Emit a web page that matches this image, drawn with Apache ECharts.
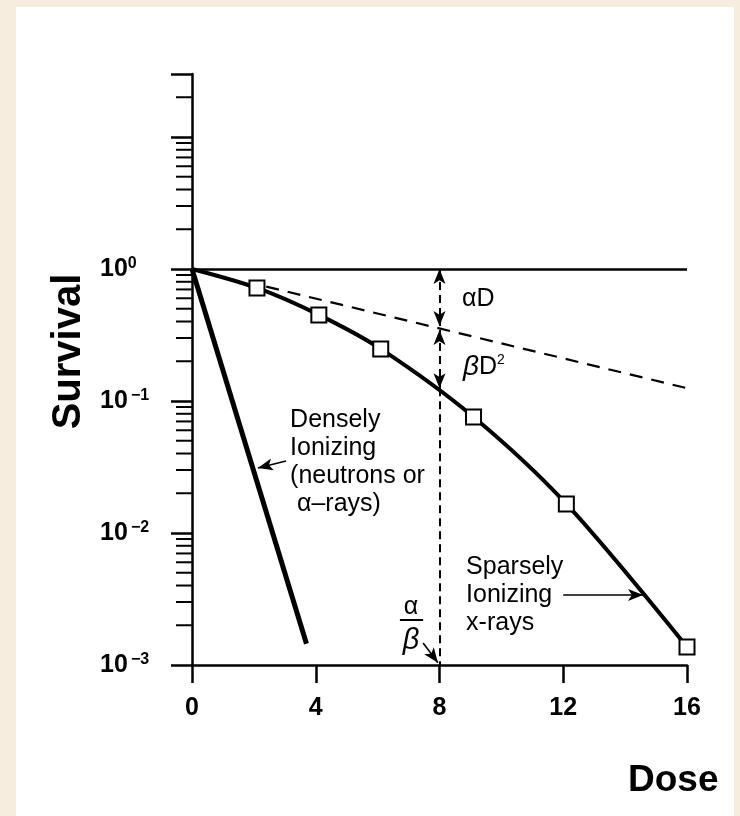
<!DOCTYPE html>
<html>
<head>
<meta charset="utf-8">
<script src="https://cdn.jsdelivr.net/npm/echarts@6/dist/echarts.min.js"></script>
<style>
html, body { margin: 0; padding: 0; background: #f6eddf; }
#main { position: absolute; left: 16px; top: 7px; width: 718px; height: 809px; background: #fff; }
</style>
</head>
<body>
<div id="main"></div>
<script>
var FONT = "'Liberation Sans', Arial, Helvetica, sans-serif";

// sparsely ionizing (x-rays)
var xrayDose = [0, 2.1, 4.1, 6.1, 9.1, 12.1, 16.0];
var xraySurvival = [1, 0.718, 0.449, 0.248, 0.0757, 0.0166, 0.00137];
// densely ionizing (neutrons / alpha)
var denseDose = [0, 3.7];
var denseSurvival = [1, 0.00145];
// alpha D component (dashed)
var alphaDose = [2.4, 16];
var alphaSurvival = [0.735, 0.125];
// axis ticks
var doseTicks = [0, 4, 8, 12, 16];
var survivalExp = [-3, -2, -1, 0];
var survivalSup = ['\u2009\u22123', '\u2009\u22122', '\u2009\u22121', '0'];
var survivalMinor = [0.002, 0.003, 0.004, 0.005, 0.006, 0.007, 0.008, 0.009,
    0.02, 0.03, 0.04, 0.05, 0.06, 0.07, 0.08, 0.09,
    0.2, 0.3, 0.4, 0.5, 0.6, 0.7, 0.8, 0.9,
    2, 3, 4, 5, 6, 7, 8, 9, 20];

var myChart = echarts.init(document.getElementById('main'));

function pairs(xs, ys) {
    var out = [];
    for (var i = 0; i < xs.length; i++) {
        out.push([xs[i], ys[i]]);
    }
    return out;
}

var xrayData = pairs(xrayDose, xraySurvival).map(function (p, i) {
    return i === 0 ? {value: p, symbol: 'none'} : p;
});

var dashV = {color: '#000', width: 2, type: [8, 5]};
var thin = {color: '#000', width: 1.6, type: 'solid'};
var arrowSize = [9, 15];

option = {
    animation: false,
    backgroundColor: '#fff',
    textStyle: {fontFamily: FONT, color: '#000'},
    grid: {
        left: 176,
        right: 47,
        top: 67,
        bottom: 151
    },
    xAxis: {
        type: 'value',
        min: 0,
        max: 16,
        interval: 4,
        name: 'Dose',
        nameLocation: 'end',
        nameGap: -59,
        nameTextStyle: {
            fontSize: 37,
            fontWeight: 'bold',
            color: '#000',
            fontFamily: FONT,
            align: 'left',
            verticalAlign: 'top',
            padding: [97, 0, 0, 0]
        },
        axisLine: {onZero: false, lineStyle: {color: '#000', width: 2.5}},
        axisTick: {length: 18, lineStyle: {color: '#000', width: 2.5}},
        axisLabel: {
            fontSize: 25,
            fontWeight: 'bold',
            color: '#000',
            fontFamily: FONT,
            margin: 31,
            formatter: function (v) {
                return doseTicks.indexOf(v) >= 0 ? String(v) : '';
            }
        },
        splitLine: {show: false}
    },
    yAxis: {
        type: 'log',
        logBase: 10,
        min: 0.001,
        max: 30,
        name: 'Survival',
        nameLocation: 'middle',
        nameRotate: 90,
        nameGap: 101,
        nameTextStyle: {
            fontSize: 40,
            fontWeight: 'bold',
            color: '#000',
            fontFamily: FONT,
            padding: [0, 0, 0, 36]
        },
        axisLine: {show: true, lineStyle: {color: '#000', width: 2.5}},
        axisTick: {show: true, length: 21, lineStyle: {color: '#000', width: 2.5}},
        axisLabel: {
            align: 'left',
            margin: 92,
            color: '#000',
            fontFamily: FONT,
            formatter: function (v) {
                var e = Math.round(Math.log10(v));
                if (Math.abs(Math.log10(v) - e) > 1e-6) return '';
                var k = survivalExp.indexOf(e);
                if (k < 0) return '';
                return '{b|10}{s|' + survivalSup[k] + '}';
            },
            rich: {
                b: {fontSize: 25, fontWeight: 'bold', fontFamily: FONT, color: '#000', lineHeight: 26},
                s: {fontSize: 16, fontWeight: 'bold', fontFamily: FONT, color: '#000', verticalAlign: 'top', lineHeight: 26}
            }
        },
        splitLine: {show: false}
    },
    series: [
        {
            // minor log ticks on the survival axis
            name: 'minor',
            type: 'custom',
            silent: true,
            clip: false,
            data: survivalMinor.map(function (v) { return [0, v]; }),
            encode: {x: 0, y: 1},
            renderItem: function (params, api) {
                var p = api.coord([0, api.value(1)]);
                return {
                    type: 'line',
                    shape: {x1: p[0] - 16, y1: p[1], x2: p[0], y2: p[1]},
                    style: {stroke: '#000', lineWidth: 2}
                };
            }
        },
        {
            name: 'alphaD',
            type: 'line',
            silent: true,
            symbol: 'none',
            data: pairs(alphaDose, alphaSurvival),
            lineStyle: {color: '#000', width: 2.2, type: [13, 9]}
        },
        {
            name: 'dense',
            type: 'line',
            silent: true,
            symbol: 'none',
            data: pairs(denseDose, denseSurvival),
            lineStyle: {color: '#000', width: 5}
        },
        {
            name: 'xrays',
            type: 'line',
            silent: true,
            smooth: 0.3,
            symbol: 'rect',
            symbolSize: 15,
            z: 5,
            data: xrayData,
            lineStyle: {color: '#000', width: 4},
            itemStyle: {color: '#fff', borderColor: '#000', borderWidth: 2}
        },
        {
            name: 'notes',
            type: 'line',
            silent: true,
            data: [],
            markLine: {
                silent: true,
                animation: false,
                symbol: ['none', 'none'],
                symbolSize: arrowSize,
                label: {show: false},
                lineStyle: {color: '#000', width: 2.5, type: 'solid'},
                data: [
                    // 10^0 reference line
                    [{coord: [0, 1]}, {coord: [16, 1]}],
                    // alpha D and beta D^2 arrows at D = alpha/beta
                    [{coord: [8, 1], symbol: 'arrow', lineStyle: dashV}, {coord: [8, 0.37], symbol: 'arrow'}],
                    [{coord: [8, 0.345], symbol: 'arrow', lineStyle: dashV}, {coord: [8, 0.125], symbol: 'arrow'}],
                    [{coord: [8, 0.125], lineStyle: dashV}, {coord: [8, 0.001]}],
                    // pointers from labels
                    [{coord: [3.04, 0.0351], lineStyle: thin}, {coord: [2.13, 0.0311], symbol: 'arrow'}],
                    [{coord: [12.0, 0.00339], lineStyle: thin}, {coord: [14.58, 0.00339], symbol: 'arrow'}],
                    [{coord: [7.47, 0.00147], lineStyle: thin}, {coord: [7.95, 0.00104], symbol: 'arrow'}],
                    // fraction bar of alpha/beta
                    [{coord: [6.72, 0.00219], lineStyle: {color: '#000', width: 2, type: 'solid'}}, {coord: [7.47, 0.00219]}]
                ]
            },
            markPoint: {
                silent: true,
                animation: false,
                symbol: 'circle',
                symbolSize: 0,
                label: {
                    show: true,
                    position: [0, 0],
                    align: 'left',
                    verticalAlign: 'top',
                    color: '#000',
                    fontFamily: FONT,
                    fontSize: 25,
                    lineHeight: 28
                },
                data: [
                    {coord: [3.17, 0.0916], label: {formatter: 'Densely\nIonizing\n(neutrons or\n \u03b1\u2013rays)'}},
                    {coord: [8.86, 0.00705], label: {formatter: 'Sparsely\nIonizing\nx-rays'}},
                    {coord: [8.73, 0.756], label: {formatter: '\u03b1D'}},
                    {
                        coord: [8.76, 0.231],
                        label: {
                            formatter: '{i|\u03b2}D{s|2}',
                            rich: {
                                i: {fontSize: 28, fontStyle: 'italic', fontFamily: FONT, color: '#000', lineHeight: 28},
                                s: {fontSize: 14, fontFamily: FONT, color: '#000', verticalAlign: 'top', lineHeight: 28}
                            }
                        }
                    },
                    {
                        coord: [7.08, 0.00363],
                        label: {
                            align: 'center',
                            lineHeight: 33,
                            formatter: '{a|\u03b1}\n{b|\u03b2}',
                            rich: {
                                a: {fontSize: 25, fontFamily: FONT, color: '#000', lineHeight: 33},
                                b: {fontSize: 29, fontStyle: 'italic', fontFamily: FONT, color: '#000', lineHeight: 33}
                            }
                        }
                    }
                ]
            }
        }
    ]
};

myChart.setOption(option);
</script>
</body>
</html>
